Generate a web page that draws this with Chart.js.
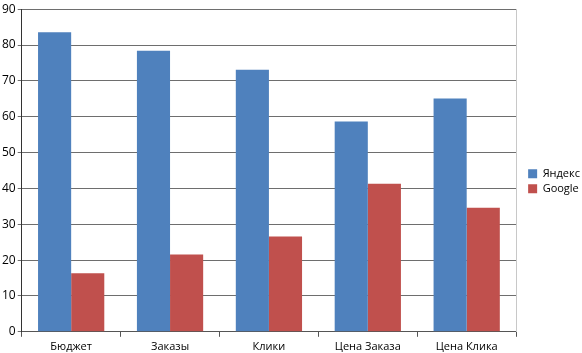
<!DOCTYPE html>
<html>
<head>
<meta charset="utf-8">
<script src="https://cdn.jsdelivr.net/npm/chart.js@4"></script>
<style>
  html, body { margin: 0; padding: 0; background: #fff; }
  #wrap { width: 582px; height: 353px; }
</style>
</head>
<body>
<div id="wrap"><canvas id="chart" width="582" height="353"></canvas></div>
<script>
// Yandex vs Google comparison
const categories = ['Бюджет', 'Заказы', 'Клики', 'Цена Заказа', 'Цена Клика'];
const yandexValues = [83.6, 78.4, 73.1, 58.7, 65.1];
const googleValues = [16.3, 21.6, 26.6, 41.3, 34.6];
const seriesNames = ['Яндекс', 'Google'];

const fontFamily = '"Open Sans", "Noto Sans", sans-serif';

const ctx = document.getElementById('chart').getContext('2d');
new Chart(ctx, {
    type: 'bar',
    data: {
        labels: categories,
        datasets: [
            {
                label: seriesNames[0],
                data: yandexValues,
                backgroundColor: '#4f81bd',
                barPercentage: 1,
                categoryPercentage: 0.67
            },
            {
                label: seriesNames[1],
                data: googleValues,
                backgroundColor: '#c0504d',
                barPercentage: 1,
                categoryPercentage: 0.67
            }
        ]
    },
    options: {
        responsive: false,
        animation: false,
        layout: { padding: { left: 0, top: -2, right: -8, bottom: -3 } },
        plugins: {
            tooltip: { enabled: false },
            legend: {
                position: 'right',
                title: { display: true, text: ' ', padding: 0, font: { size: 7 } },
                labels: {
                    boxWidth: 9,
                    boxHeight: 9,
                    padding: 4,
                    color: '#000',
                    font: { family: fontFamily, size: 11 }
                }
            }
        },
        scales: {
            x: {
                grid: {
                    offset: true,
                    drawOnChartArea: false,
                    tickLength: 5,
                    color: '#555'
                },
                border: { color: '#555' },
                ticks: {
                    color: '#000',
                    padding: 3,
                    font: { family: fontFamily, size: 11 }
                }
            },
            y: {
                min: 0,
                max: 90,
                ticks: {
                    stepSize: 10,
                    color: '#000',
                    padding: 2,
                    font: { family: fontFamily, size: 12 }
                },
                grid: {
                    color: '#6e6e6e',
                    tickLength: 4
                },
                border: { color: '#333' }
            },
            yRight: {
                position: 'right',
                min: 0,
                max: 90,
                ticks: { display: false },
                grid: { display: false },
                border: { color: '#c8c8c8' }
            }
        }
    }
});
</script>
</body>
</html>
